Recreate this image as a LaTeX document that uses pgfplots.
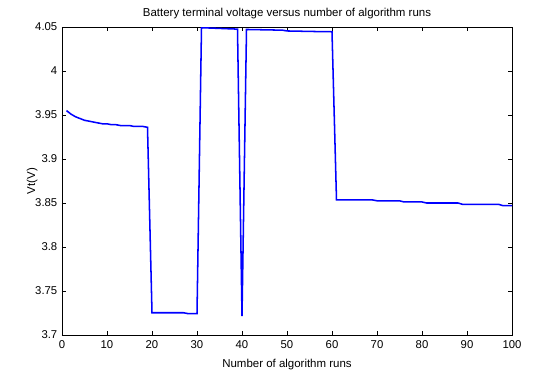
\documentclass[border=0pt]{standalone}
\usepackage{pgfplots}
\pgfplotsset{compat=1.18}
\usepackage{fontspec}
\setmainfont{Liberation Sans}
\begin{document}
\begin{tikzpicture}
\begin{axis}[
  scale only axis,
  width=337.5pt, height=231pt,
  xmin=0, xmax=100, ymin=3.7, ymax=4.05,
  xtick={0,10,...,100},
  ytick={3.7,3.75,3.8,3.85,3.9,3.95,4,4.05},
  yticklabels={3.7,3.75,3.8,3.85,3.9,3.95,4,4.05},
  /pgf/number format/assume math mode=true,
  tick align=inside,
  major tick length=3pt,
  axis line style={line width=0.6pt},
  tick style={line width=0.5pt, black},
  ticklabel style={font=\fontsize{8.5}{10}\selectfont},
  label style={font=\fontsize{8.6}{10}\selectfont},
  title style={font=\fontsize{8.6}{10}\selectfont, yshift=-3.5pt},
  title={Battery terminal voltage versus number of algorithm runs},
  xlabel={Number of algorithm runs},
  ylabel={Vt(V)},
  xlabel style={yshift=-1pt},
  ylabel style={yshift=-8.5pt},
  xticklabel style={yshift=-1pt},
]
\addplot[color={rgb,1:red,0;green,0;blue,1}, line width=1.15pt] coordinates {
(1,3.955)(2,3.951)(3,3.948)(4,3.946)(5,3.944)(6,3.943)(7,3.942)(8,3.941)(9,3.940)(10,3.940)
(11,3.939)(12,3.939)(13,3.938)(14,3.938)(15,3.938)(16,3.937)(17,3.937)(18,3.937)(19,3.936)
(20,3.7253)(21,3.7253)(22,3.7253)(23,3.7253)(24,3.7253)(25,3.7253)(26,3.7253)(27,3.7253)
(28,3.7243)(29,3.7242)(30,3.7242)
(31,4.0492)(32,4.0490)(33,4.0488)(34,4.0486)(35,4.0484)(36,4.0482)(37,4.0480)(38,4.0478)(39,4.0476)
(40,3.7216)
(41,4.0472)(42,4.0471)(43,4.0470)(44,4.0469)(45,4.0468)(46,4.0467)(47,4.0466)(48,4.0465)(49,4.0464)
(50,4.0455)(51,4.0454)(52,4.0453)(53,4.0452)(54,4.0451)(55,4.0450)(56,4.0449)(57,4.0448)(58,4.0447)(59,4.0447)(60,4.0446)
(61,3.8535)(62,3.8535)(63,3.8535)(64,3.8535)(65,3.8535)(66,3.8535)(67,3.8535)(68,3.8535)(69,3.8535)
(70,3.8525)(71,3.8525)(72,3.8525)(73,3.8525)(74,3.8525)(75,3.8525)
(76,3.8512)(77,3.8512)(78,3.8512)(79,3.8512)(80,3.8512)
(81,3.8500)(82,3.8500)(83,3.8500)(84,3.8500)(85,3.8500)(86,3.8500)(87,3.8500)(88,3.8500)
(89,3.8485)(90,3.8485)(91,3.8485)(92,3.8485)(93,3.8485)(94,3.8485)(95,3.8485)(96,3.8485)(97,3.8485)
(98,3.8470)(99,3.8470)(100,3.8470)
};
\end{axis}
\pgfresetboundingbox
\path[use as bounding box] (-46.5pt,-27.75pt) rectangle (354.75pt,251.25pt);
\end{tikzpicture}
\end{document}
